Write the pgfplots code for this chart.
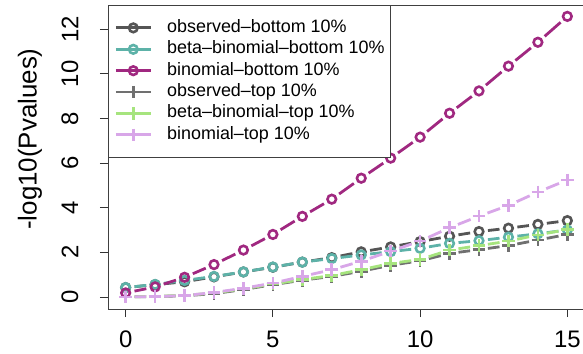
\documentclass[border=0pt]{standalone}
\usepackage{fontspec}
\setmainfont{Liberation Sans}
\usepackage{pgfplots}
\usepackage{pgfplotstable}
\pgfplotsset{compat=1.18}

\definecolor{obsbot}{RGB}{85,85,85}
\definecolor{betabot}{RGB}{93,178,168}
\definecolor{binbot}{RGB}{160,40,128}
\definecolor{obstop}{RGB}{112,112,112}
\definecolor{betatop}{RGB}{166,228,126}
\definecolor{bintop}{RGB}{216,166,232}

% -log10 p-values per threshold
\pgfplotstableread{
x y
0 0.42
1 0.55
2 0.68
3 0.90
4 1.12
5 1.33
6 1.56
7 1.76
8 2.02
9 2.24
10 2.48
11 2.72
12 2.93
13 3.08
14 3.25
15 3.42
}\obsbottom
\pgfplotstableread{
x y
0 0.42
1 0.56
2 0.74
3 0.92
4 1.12
5 1.34
6 1.56
7 1.72
8 1.88
9 2.03
10 2.18
11 2.40
12 2.52
13 2.68
14 2.83
15 3.00
}\betabottom
\pgfplotstableread{
x y
0 0.18
1 0.45
2 0.88
3 1.45
4 2.10
5 2.80
6 3.61
7 4.38
8 5.32
9 6.22
10 7.16
11 8.23
12 9.23
13 10.34
14 11.41
15 12.57
}\binbottom
\pgfplotstableread{
x y
0 0.00
1 0.02
2 0.05
3 0.15
4 0.33
5 0.55
6 0.75
7 0.92
8 1.15
9 1.42
10 1.62
11 1.95
12 2.12
13 2.30
14 2.55
15 2.80
}\obstop
\pgfplotstableread{
x y
0 0.00
1 0.03
2 0.07
3 0.18
4 0.36
5 0.58
6 0.78
7 0.96
8 1.22
9 1.50
10 1.68
11 2.10
12 2.30
13 2.50
14 2.78
15 3.02
}\betatop
\pgfplotstableread{
x y
0 0.00
1 0.02
2 0.06
3 0.20
4 0.39
5 0.62
6 0.92
7 1.22
8 1.60
9 2.05
10 2.50
11 3.10
12 3.62
13 4.10
14 4.70
15 5.24
}\bintop

% forward differences to the next point, so that each segment between
% two points can be drawn on its own (with gaps around the markers)
\newcommand\addsteps[1]{%
  \pgfplotstablecreatecol[create col/assign/.code={%
      \getthisrow{x}\cur \getnextrow{x}\nxt
      \ifx\nxt\empty\def\val{0}\else\pgfmathparse{\nxt-\cur}\let\val\pgfmathresult\fi
      \pgfkeyslet{/pgfplots/table/create col/next content}\val}]{u}{#1}%
  \pgfplotstablecreatecol[create col/assign/.code={%
      \getthisrow{y}\cur \getnextrow{y}\nxt
      \ifx\nxt\empty\def\val{0}\else\pgfmathparse{\nxt-\cur}\let\val\pgfmathresult\fi
      \pgfkeyslet{/pgfplots/table/create col/next content}\val}]{v}{#1}%
}
\addsteps{\obsbottom}
\addsteps{\betabottom}
\addsteps{\binbottom}
\addsteps{\obstop}
\addsteps{\betatop}
\addsteps{\bintop}

\pgfplotsset{
  seg/.style={forget plot, quiver={u=\thisrow{u},v=\thisrow{v}}, -,
    shorten >=9bp, shorten <=9bp, line width=2.8bp,
    skip coords between index={15}{16}},
  pts/.style={only marks, line width=2.6bp, mark options={solid}},
  circ/.style={pts, mark=o, mark size=4.3bp},
  plus/.style={pts, mark=+, mark size=6.3bp},
}

\begin{document}
\begin{tikzpicture}
\begin{axis}[
  at={(108bp,45bp)}, anchor=south west,
  scale only axis, width=477bp, height=304bp,
  xmin=-0.6, xmax=15.6, ymin=-0.54, ymax=13.08,
  xtick={0,5,10,15}, ytick={0,2,...,12},
  xtick pos=bottom, ytick pos=left,
  tick align=outside, major tick length=8bp,
  tick style={black!80, line width=0.8bp},
  axis line style={black!75, line width=0.8bp},
  /pgf/number format/assume math mode=true,
  ticklabel style={font=\fontsize{24}{24}\selectfont},
  xticklabel style={anchor=center, yshift=-22bp},
  yticklabel style={xshift=-30bp, rotate=90, anchor=center},
  ylabel={-log10(Pvalues)},
  ylabel style={at={(axis description cs:-0.1635,0.559)}, anchor=center,
    font=\fontsize{26}{26}\selectfont},
  clip=false,
  legend cell align=left,
  legend image code/.code={%
    \draw[#1, line width=2.8bp] (0bp,0bp) -- (35bp,0bp);
    \draw[#1] plot coordinates {(17.5bp,0bp)};},
  legend style={at={(axis description cs:0,1)}, anchor=north west,
    draw=black!75, line width=0.8bp, fill=white,
    font=\fontsize{18}{21}\selectfont,
    inner xsep=6bp, inner ysep=14bp, row sep=4.4bp,
    nodes={inner sep=0pt, text height=13bp, text depth=4bp},
    /tikz/every odd column/.append style={column sep=15bp}},
]
\addplot[seg, color=obsbot] table {\obsbottom};
\addplot[circ, color=obsbot] table {\obsbottom};
\addlegendentry{observed--bottom 10\%}
\addplot[seg, color=betabot] table {\betabottom};
\addplot[circ, color=betabot] table {\betabottom};
\addlegendentry{beta--binomial--bottom 10\%}
\addplot[seg, color=binbot] table {\binbottom};
\addplot[circ, color=binbot] table {\binbottom};
\addlegendentry{binomial--bottom 10\%}
\addplot[seg, color=obstop] table {\obstop};
\addplot[plus, color=obstop] table {\obstop};
\addlegendentry{observed--top 10\%}
\addplot[seg, color=betatop] table {\betatop};
\addplot[plus, color=betatop] table {\betatop};
\addlegendentry{beta--binomial--top 10\%}
\addplot[seg, color=bintop] table {\bintop};
\addplot[plus, color=bintop] table {\bintop};
\addlegendentry{binomial--top 10\%}
\end{axis}
\pgfresetboundingbox
\path[use as bounding box] (0,0) rectangle (583bp,354bp);
\end{tikzpicture}
\end{document}
